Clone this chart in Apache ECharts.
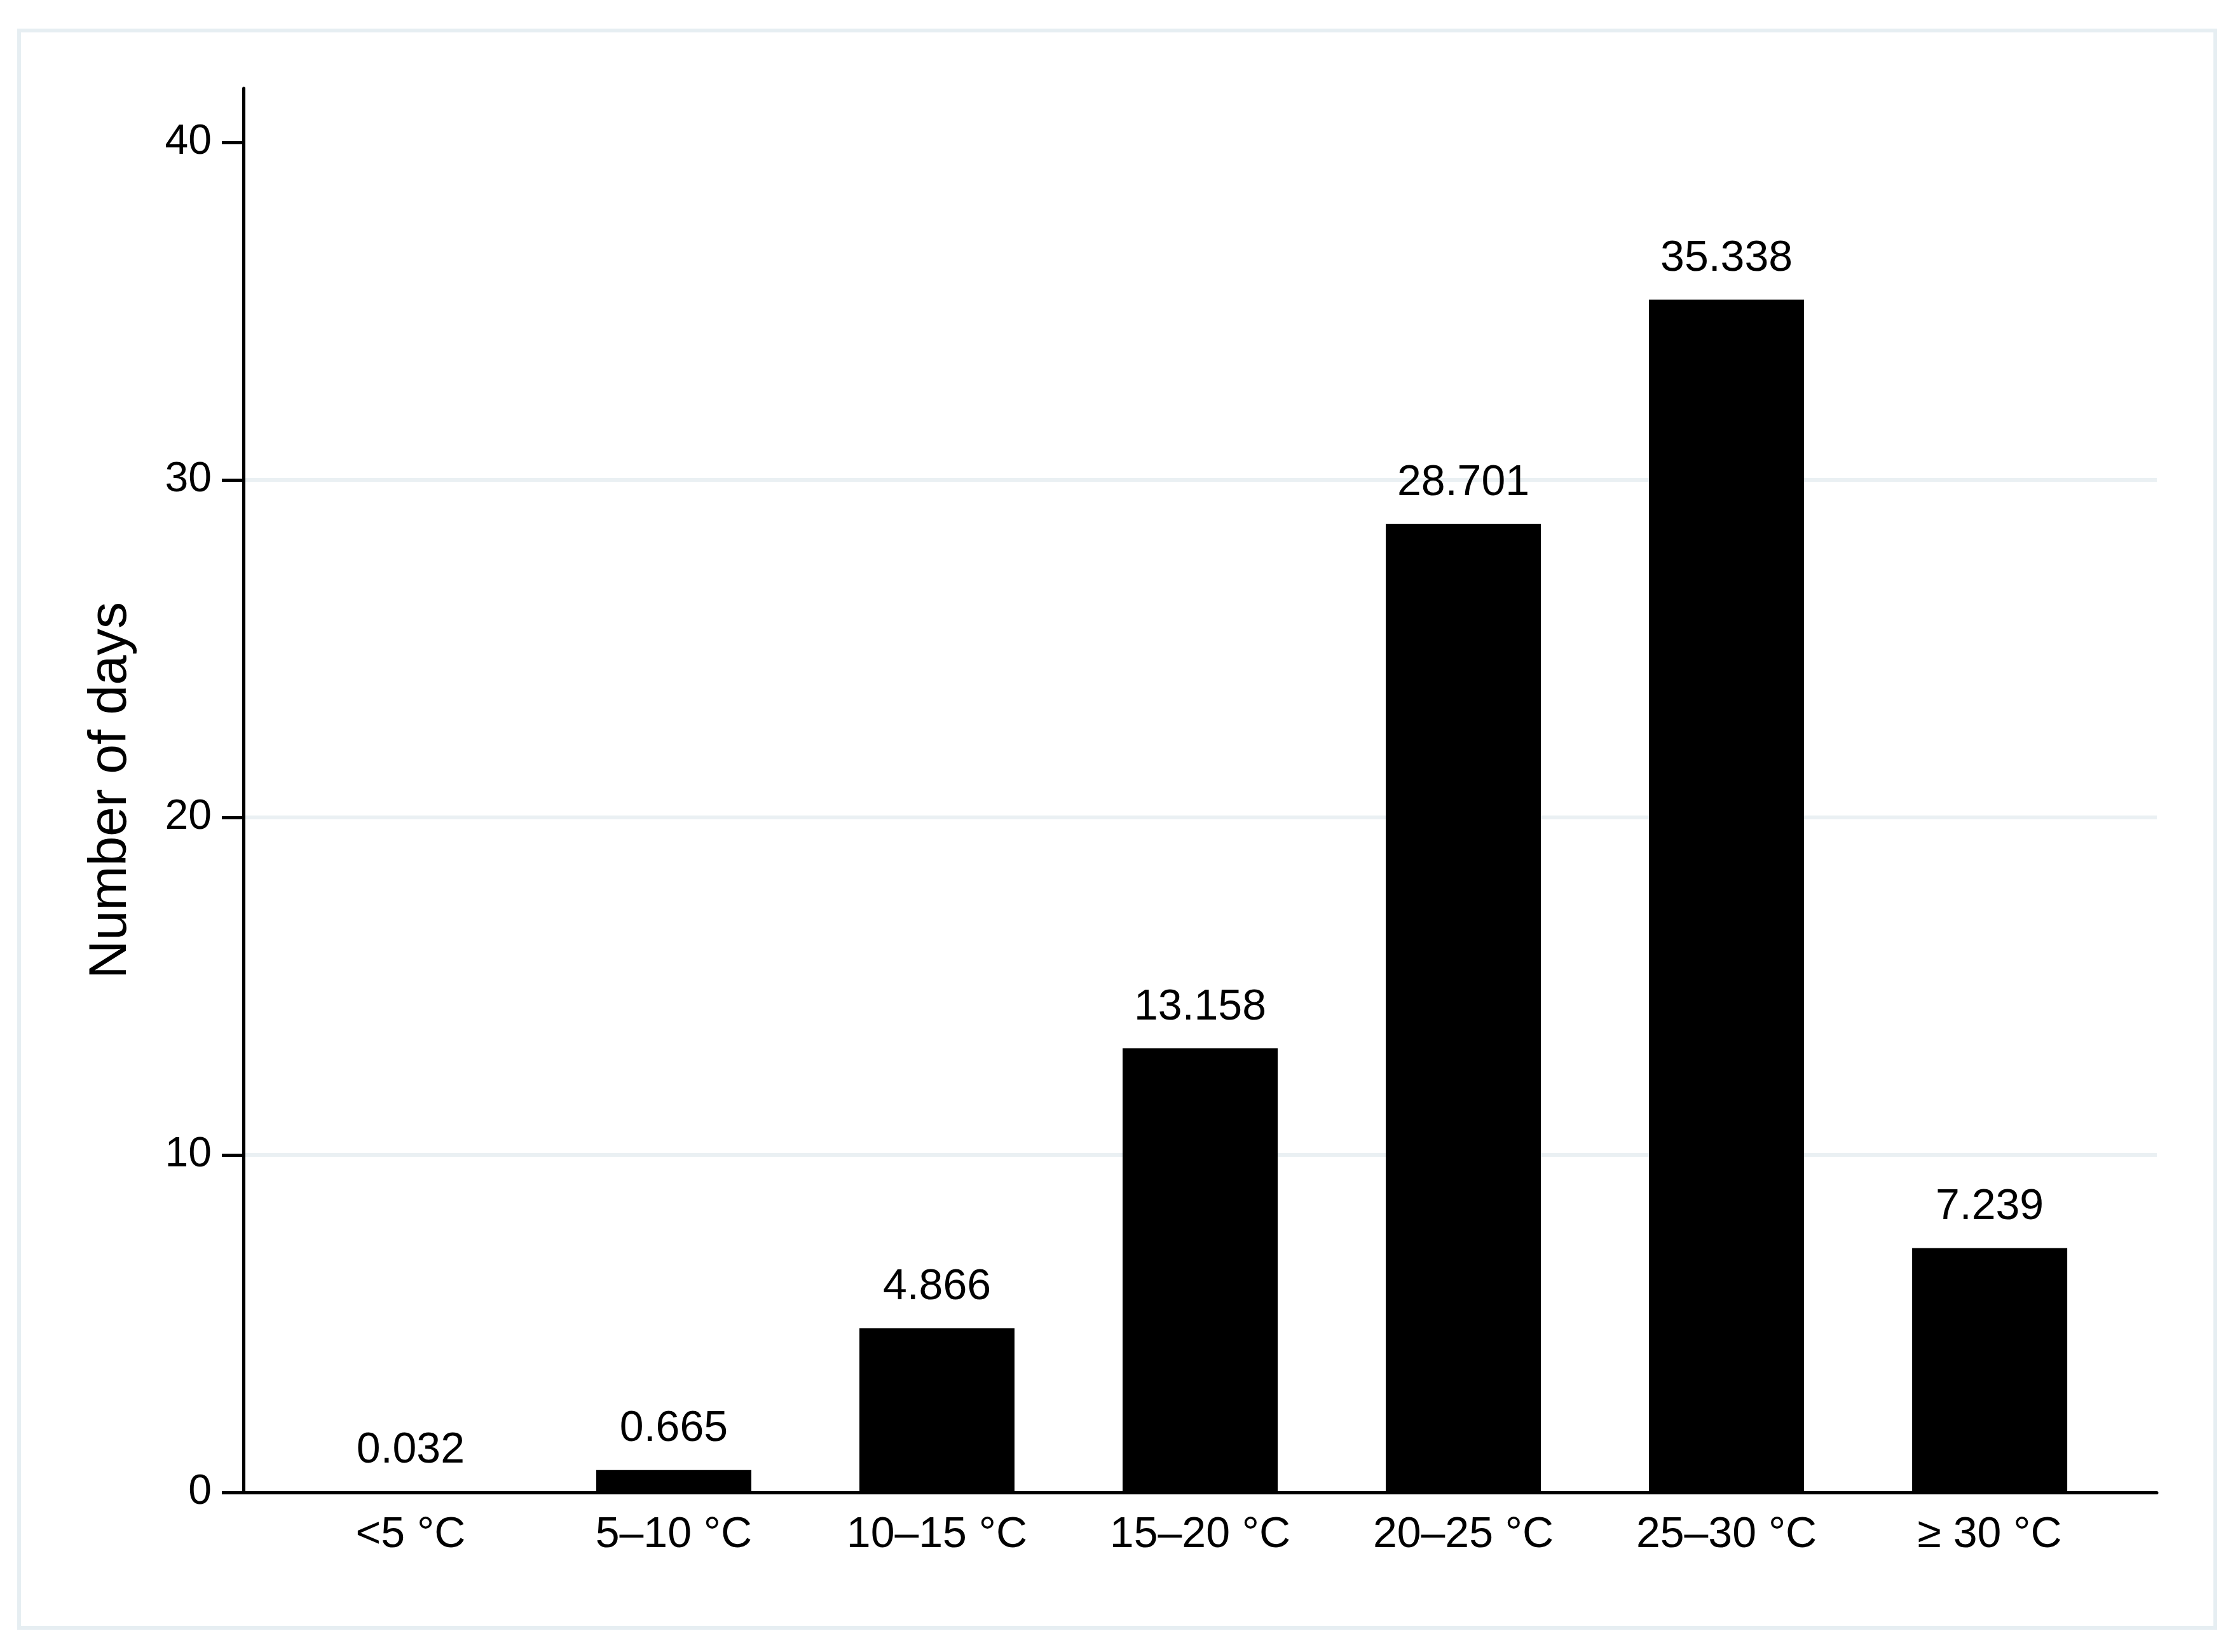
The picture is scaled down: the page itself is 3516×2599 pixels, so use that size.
<!DOCTYPE html>
<html>
<head>
<meta charset="utf-8">
<title>Number of days by temperature</title>
<script src="https://cdn.jsdelivr.net/npm/echarts@6/dist/echarts.min.js"></script>
<style>
  html, body { margin: 0; padding: 0; background: #ffffff; }
  #chart { width: 3516px; height: 2599px; }
</style>
</head>
<body>
<div id="chart"></div>
<script>
// categories on the x axis
var categories = ['<5 °C', '5–10 °C', '10–15 °C', '15–20 °C', '20–25 °C', '25–30 °C', '≥ 30 °C']
// number of days per temperature band
var days = [0.032, 0.665, 4.866, 13.158, 28.701, 35.338, 7.239]
// y tick labels
var yTicks = [0, 10, 20, 30, 40]

var fontFamily = '"Liberation Sans", Arial, Helvetica, sans-serif'

var chart = echarts.init(document.getElementById('chart'))

// bars sit on a numeric x axis so the axis line can run past the outer bars
var barData = []
for (let i = 0; i < days.length; i++) {
  barData.push([i, days[i]])
}

chart.setOption({
  backgroundColor: '#ffffff',
  animation: false,
  graphic: [
    {
      // light frame round the whole figure
      type: 'rect',
      left: 27,
      top: 45,
      shape: { width: 3455, height: 2513 },
      style: { fill: 'none', stroke: '#e6eef2', lineWidth: 6 },
      silent: true
    }
  ],
  grid: {
    left: 383,
    right: 123,
    top: 139,
    bottom: 251,
    containLabel: false
  },
  xAxis: {
    type: 'value',
    min: -0.635,
    max: categories.length - 1 + 0.635,
    axisLine: { show: true, onZero: false, lineStyle: { color: '#000000', width: 5 } },
    axisTick: { show: false },
    splitLine: { show: false },
    axisLabel: {
      customValues: categories.map(function(c, i) { return i }),
      formatter: function(v) { return categories[Math.round(v)] },
      color: '#000000',
      fontFamily: fontFamily,
      fontSize: 68,
      margin: 33
    }
  },
  yAxis: {
    type: 'value',
    min: 0,
    max: 41.6,
    interval: 10,
    name: 'Number of days',
    nameLocation: 'middle',
    nameGap: 166,
    nameTextStyle: { color: '#000000', fontFamily: fontFamily, fontSize: 84 },
    axisLine: { show: true, onZero: false, lineStyle: { color: '#000000', width: 5 } },
    axisTick: {
      show: true,
      inside: false,
      length: 34,
      customValues: yTicks,
      lineStyle: { color: '#000000', width: 5 }
    },
    axisLabel: {
      customValues: yTicks,
      color: '#000000',
      fontFamily: fontFamily,
      fontSize: 66,
      margin: 50
    },
    splitLine: {
      show: true,
      showMinLine: false,
      showMaxLine: false,
      lineStyle: { color: '#eaf0f3', width: 6 }
    }
  },
  series: [
    {
      name: 'Number of days',
      type: 'bar',
      barWidth: 244,
      data: barData,
      itemStyle: { color: '#000000' },
      label: {
        show: true,
        position: 'top',
        distance: 30,
        color: '#000000',
        fontFamily: fontFamily,
        fontSize: 68,
        formatter: function(p) { return p.value[1].toFixed(3) }
      }
    }
  ]
})
</script>
</body>
</html>
